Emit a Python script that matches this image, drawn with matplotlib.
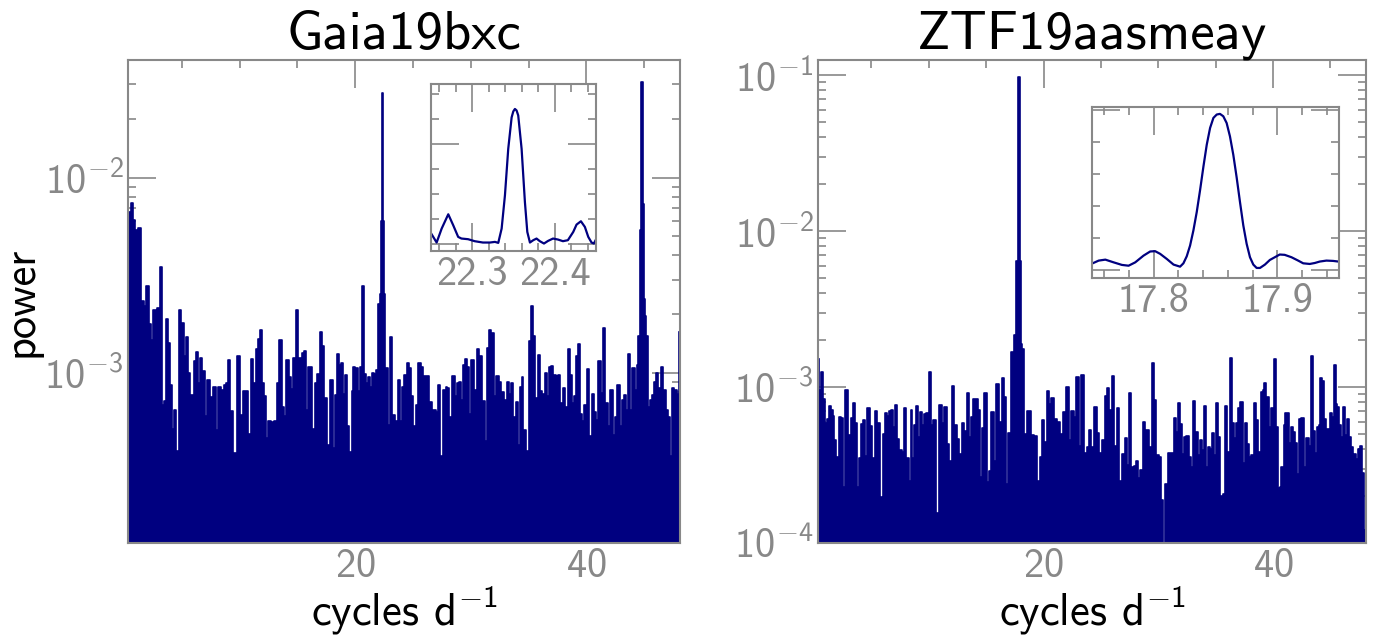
import matplotlib
matplotlib.use('Agg')
import numpy as np
import matplotlib.pyplot as plt
from matplotlib.ticker import (MultipleLocator, LogLocator, FormatStrFormatter,
                               NullFormatter, FuncFormatter)

plt.rcParams['font.family'] = 'cmss10'
plt.rcParams['mathtext.fontset'] = 'custom'
plt.rcParams['mathtext.rm'] = 'cmss10'
plt.rcParams['mathtext.it'] = 'cmss10'
plt.rcParams['mathtext.bf'] = 'cmss10'
plt.rcParams['axes.unicode_minus'] = False
plt.rcParams['axes.formatter.use_mathtext'] = True

# Gaia19bxc periodogram (frequency in cycles/day, power)
gaia_freq = [0.36, 0.53, 0.68, 0.85, 1.08, 1.34, 1.58, 1.81, 2.04, 2.27, 2.45, 2.65, 2.82, 2.97,
             3.20, 3.37, 3.52, 3.69, 3.89, 4.04, 4.18, 4.39, 4.62, 4.82, 5.05, 5.26, 5.46, 5.63,
             5.84, 5.98, 6.13, 6.30, 6.50, 6.68, 6.88, 7.08, 7.31, 7.55, 7.84, 8.01, 8.33, 8.53,
             8.73, 8.85, 9.08, 9.34, 9.60, 9.92, 10.13, 10.42, 10.62, 10.85, 11.08, 11.29, 11.49,
             11.66, 11.81, 12.01, 12.18, 12.39, 12.59, 12.82, 13.08, 13.31, 13.52, 13.75, 13.95,
             14.16, 14.36, 14.53, 14.73, 14.94, 15.11, 15.28, 15.49, 15.66, 15.84, 15.98, 16.21,
             16.40, 16.65, 16.82, 17.02, 17.17, 17.40, 17.69, 17.95, 18.16, 18.33, 18.53, 18.68,
             18.85, 19.00, 19.23, 19.43, 19.58, 19.78, 19.92, 20.13, 20.30, 20.45, 20.65, 20.82,
             21.00, 21.23, 21.37, 21.55, 21.72, 21.89, 22.10, 22.24, 22.30, 22.352, 22.41, 22.53,
             22.68, 22.97, 23.11, 23.31, 23.55, 23.78, 23.98, 24.13, 24.33, 24.56, 24.73, 24.94,
             25.14, 25.34, 25.58, 25.78, 26.01, 26.27, 26.50, 26.73, 26.94, 27.08, 27.26, 27.46,
             27.75, 27.89, 28.07, 28.24, 28.53, 28.71, 28.91, 29.05, 29.26, 29.43, 29.58, 29.78,
             29.92, 30.13, 30.36, 30.50, 30.65, 30.85, 31.14, 31.31, 31.52, 31.66, 31.87, 32.10,
             32.30, 32.53, 32.76, 32.99, 33.25, 33.43, 33.57, 33.77, 33.98, 34.15, 34.35, 34.44,
             34.67, 34.93, 35.14, 35.31, 35.48, 35.66, 35.89, 36.09, 36.30, 36.53, 36.70, 36.88,
             37.05, 37.25, 37.46, 37.63, 37.83, 38.06, 38.27, 38.47, 38.64, 38.79, 38.99, 39.14,
             39.34, 39.51, 39.72, 39.92, 40.12, 40.35, 40.59, 40.73, 40.93, 41.11, 41.34, 41.54,
             41.75, 41.95, 42.18, 42.38, 42.56, 42.82, 42.96, 43.14, 43.34, 43.54, 43.72, 43.86,
             44.06, 44.27, 44.41, 44.59, 44.67, 44.79, 44.93, 45.02, 45.14, 45.25, 45.40, 45.57,
             45.80, 45.95, 46.09, 46.30, 46.56, 46.76, 46.96, 47.14, 47.31, 47.48, 47.72, 47.92,
             48.03]
gaia_power = [6.3e-3, 6.7e-3, 7.4e-3, 6.1e-3, 5.4e-3, 5.5e-3, 2.35e-3, 2.2e-3, 2.8e-3, 1.78e-3,
              1.48e-3, 2.1e-3, 1.46e-3, 2.15e-3, 3.5e-3, 6.9e-4, 7.2e-4, 1.9e-3, 1.42e-3, 8.7e-4,
              5.2e-4, 6.5e-4, 4.0e-4, 2.1e-3, 1.8e-3, 1.22e-3, 1.52e-3, 1.0e-3, 7.7e-4, 7.7e-4,
              1.15e-3, 1.28e-3, 8.9e-4, 1.19e-3, 1.02e-3, 6.0e-4, 9.2e-4, 7.5e-4, 8.5e-4, 5.1e-4,
              8.5e-4, 8.2e-4, 8.7e-4, 8.9e-4, 1.16e-3, 6.4e-4, 3.9e-4, 1.22e-3, 6.1e-4, 8.1e-4,
              8.05e-4, 4.9e-4, 1.18e-3, 8.9e-4, 1.33e-3, 1.49e-3, 1.66e-3, 8.9e-4, 7.6e-4, 4.65e-4,
              5.65e-4, 5.6e-4, 5.65e-4, 8.9e-4, 1.48e-3, 6.7e-4, 6.0e-4, 1.16e-3, 9.5e-4, 8.3e-4,
              1.19e-3, 2.1e-3, 1.2e-3, 1.2e-3, 1.26e-3, 1.29e-3, 6.5e-4, 1.08e-3, 1.08e-3, 5.2e-4,
              8.9e-4, 9.9e-4, 1.63e-3, 1.37e-3, 7.45e-4, 4.3e-4, 9.2e-4, 4.15e-4, 7.7e-4, 1.25e-3,
              1.1e-3, 1.12e-3, 7.8e-4, 9.8e-4, 5.35e-4, 3.95e-4, 8.1e-4, 1.07e-3, 1.06e-3, 8.1e-4,
              1.08e-3, 2.8e-3, 9.9e-4, 8.9e-4, 9.5e-4, 8.5e-4, 1.0e-3, 9.9e-4, 1.04e-3, 2.25e-3,
              2.55e-3, 6.0e-3, 2.7e-2, 6.0e-3, 2.55e-3, 1.06e-3, 5.45e-4, 1.53e-3, 6.1e-4, 5.65e-4,
              9.2e-4, 5.65e-4, 8.5e-4, 9.8e-4, 1.12e-3, 1.06e-3, 7.6e-4, 5.35e-4, 6.9e-4, 1.12e-3,
              1.08e-3, 9.7e-4, 9.7e-4, 7.1e-4, 6.5e-4, 6.5e-4, 6.35e-4, 8.7e-4, 3.75e-4, 8.2e-4,
              8.5e-4, 8.35e-4, 5.95e-4, 9.6e-4, 7.6e-4, 8.9e-4, 9.05e-4, 7.3e-4, 1.1e-3, 1.18e-3,
              1.08e-3, 6.2e-4, 1.16e-3, 8.2e-4, 4.8e-4, 1.33e-3, 1.22e-3, 7.2e-4, 4.5e-4, 1.34e-3,
              1.66e-3, 1.6e-3, 7.6e-4, 9.6e-4, 9.0e-4, 8.0e-4, 7.3e-4, 9.05e-4, 7.85e-4, 8.9e-4,
              5.95e-4, 7.1e-4, 4.3e-4, 8.5e-4, 9.5e-4, 5.1e-4, 4.0e-4, 1.45e-3, 2.2e-3, 1.54e-3,
              7.45e-4, 1.24e-3, 8.05e-4, 7.85e-4, 1.0e-3, 7.6e-4, 1.08e-3, 1.09e-3, 9.8e-4, 9.7e-4,
              9.8e-4, 7.05e-4, 8.35e-4, 6.7e-4, 1.32e-3, 9.8e-4, 7.05e-4, 7.6e-4, 1.22e-3, 1.41e-3,
              6.2e-4, 5.65e-4, 6.9e-4, 1.05e-3, 4.75e-4, 7.85e-4, 6.35e-4, 5.75e-4, 1.15e-3, 7.9e-4,
              1.7e-3, 7.05e-4, 5.35e-4, 8.2e-4, 4.8e-4, 5.95e-4, 8.7e-4, 5.35e-4, 7.3e-4, 7.7e-4,
              6.5e-4, 1.25e-3, 6.5e-4, 1.06e-3, 8.2e-4, 1.1e-3, 1.54e-3, 5.4e-3, 3.1e-2, 7.3e-3,
              2.4e-3, 1.95e-3, 1.54e-3, 6.7e-4, 7.3e-4, 7.7e-4, 9.05e-4, 1.0e-3, 8.35e-4, 1.08e-3,
              8.2e-4, 6.5e-4, 5.95e-4, 3.75e-4, 8.35e-4, 8.2e-4, 7.85e-4, 1.63e-3]

# ZTF19aasmeay periodogram
ztf_freq = [0.40, 0.50, 0.70, 0.87, 1.05, 1.19, 1.40, 1.54, 1.69, 1.86, 2.03, 2.24, 2.41, 2.59,
            2.88, 3.08, 3.28, 3.52, 3.69, 3.83, 4.01, 4.21, 4.39, 4.56, 4.73, 4.94, 5.17, 5.40,
            5.61, 5.81, 5.95, 6.10, 6.27, 6.45, 6.59, 6.77, 6.94, 7.17, 7.35, 7.52, 7.75, 7.93,
            8.13, 8.34, 8.48, 8.65, 8.80, 8.97, 9.15, 9.32, 9.50, 9.70, 9.87, 10.11, 10.31, 10.51,
            10.80, 11.04, 11.24, 11.47, 11.67, 11.85, 12.11, 12.34, 12.55, 12.78, 12.98, 13.13,
            13.45, 13.59, 13.79, 14.00, 14.17, 14.35, 14.52, 14.75, 14.96, 15.13, 15.36, 15.57,
            15.77, 16.03, 16.26, 16.47, 16.67, 16.84, 17.05, 17.25, 17.54, 17.72, 17.854, 17.96,
            18.03, 18.18, 18.41, 18.76, 18.99, 19.28, 19.54, 19.78, 20.01, 20.15, 20.41, 20.56,
            20.82, 21.05, 21.29, 21.52, 21.81, 22.10, 22.30, 22.50, 22.74, 22.94, 23.17, 23.38,
            23.72, 23.93, 24.04, 24.22, 24.51, 24.77, 24.97, 25.23, 25.44, 25.64, 25.79, 26.08,
            26.25, 26.48, 26.71, 26.95, 27.18, 27.35, 27.53, 27.76, 27.96, 28.14, 28.34, 28.54,
            28.75, 28.89, 29.10, 29.30, 29.53, 29.73, 29.94, 30.14, 30.32, 30.49, 30.66, 30.98,
            31.24, 31.45, 31.65, 31.83, 32.00, 32.17, 32.35, 32.55, 32.75, 32.93, 33.13, 33.34,
            33.51, 33.68, 33.86, 34.09, 34.26, 34.44, 34.61, 34.79, 34.96, 35.11, 35.31, 35.51,
            35.69, 35.89, 36.12, 36.36, 36.53, 36.70, 36.91, 37.05, 37.23, 37.46, 37.63, 37.84,
            38.01, 38.18, 38.42, 38.62, 38.79, 39.03, 39.17, 39.32, 39.52, 39.72, 39.93, 40.16,
            40.30, 40.51, 40.62, 40.83, 41.00, 41.17, 41.32, 41.46, 41.64, 41.81, 41.99, 42.16,
            42.34, 42.57, 42.80, 43.00, 43.21, 43.38, 43.53, 43.73, 43.90, 44.05, 44.22, 44.37,
            44.54, 44.75, 44.89, 45.09, 45.21, 45.38, 45.53, 45.70, 45.82, 45.99, 46.17, 46.34,
            46.55, 46.72, 46.84, 47.01, 47.18, 47.36, 47.50, 47.68, 47.85, 48.03]
ztf_power = [1.52e-3, 9.6e-4, 1.25e-3, 8.4e-4, 5.85e-4, 6.2e-4, 7.5e-4, 7.1e-4, 6.5e-4, 4.6e-4,
             3.55e-4, 6.4e-4, 6.3e-4, 2.3e-4, 9.5e-4, 4.9e-4, 6.3e-4, 7.9e-4, 5.85e-4, 2.3e-4,
             3.5e-4, 5.8e-4, 6.1e-4, 3.6e-4, 7.35e-4, 5.6e-4, 3.5e-4, 7.05e-4, 5.9e-4, 1.98e-4,
             1.85e-4, 5.0e-4, 6.8e-4, 6.5e-4, 7.0e-4, 7.1e-4, 5.55e-4, 7.7e-4, 4.65e-4, 3.95e-4,
             3.85e-4, 7.3e-4, 3.5e-4, 2.5e-4, 7.1e-4, 3.5e-4, 5.7e-4, 7.6e-4, 4.8e-4, 6.95e-4,
             5.7e-4, 6.7e-4, 6.8e-4, 1.25e-3, 5.7e-4, 6.15e-4, 1.55e-4, 7.7e-4, 5.85e-4, 7.4e-4,
             4.3e-4, 3.35e-4, 1.01e-3, 5.7e-4, 4.65e-4, 3.7e-4, 5.85e-4, 5.2e-4, 9.1e-4, 4.75e-4,
             6.4e-4, 8.4e-4, 8.4e-4, 7.1e-4, 2.65e-4, 5.5e-4, 9.2e-4, 2.45e-4, 2.9e-4, 6.95e-4,
             3.35e-4, 1.05e-3, 6.0e-4, 1.15e-3, 8.6e-4, 2.4e-4, 5.1e-4, 1.68e-3, 2.14e-3, 6.4e-3,
             9.7e-2, 6.4e-3, 1.9e-3, 1.74e-3, 5.0e-4, 7.0e-4, 4.9e-4, 4.85e-4, 2.5e-4, 3.55e-4,
             6.1e-4, 4.45e-4, 9.4e-4, 7.8e-4, 8.5e-4, 6.2e-4, 6.0e-4, 5.0e-4, 6.9e-4, 1.0e-3,
             4.6e-4, 7.0e-4, 6.4e-4, 1.16e-3, 4.2e-4, 1.2e-3, 3.75e-4, 4.1e-4, 5.3e-4, 4.1e-4,
             7.4e-4, 5.1e-4, 3.75e-4, 4.6e-4, 8.7e-4, 9.9e-4, 7.1e-4, 1.17e-3, 4.2e-4, 7.3e-4,
             2.5e-4, 3.7e-4, 4.7e-4, 3.15e-4, 9.2e-4, 3.05e-4, 3.1e-4, 3.35e-4, 2.6e-4, 2.95e-4,
             6.0e-4, 5.3e-4, 5.3e-4, 4.1e-4, 1.43e-3, 8.3e-4, 3.65e-4, 3.55e-4, 1.9e-4, 8.0e-5,
             2.4e-4, 3.75e-4, 3.8e-4, 6.3e-4, 5.15e-4, 7.9e-4, 5.8e-4, 3.7e-4, 4.75e-4, 4.85e-4,
             3.56e-4, 3.08e-4, 8.1e-4, 5.15e-4, 3.65e-4, 4.55e-4, 3.97e-4, 7.5e-4, 3.05e-4, 4.1e-4,
             4.0e-4, 5.1e-4, 3.65e-4, 7.9e-4, 4.8e-4, 2.0e-4, 2.06e-4, 7.5e-4, 3.84e-4, 1.53e-3,
             5.9e-4, 4.7e-4, 5.9e-4, 7.3e-4, 8.0e-4, 3.27e-4, 5.9e-4, 4.3e-4, 3.56e-4, 3.65e-4,
             7.9e-4, 6.1e-4, 3.84e-4, 9.3e-4, 9.5e-4, 1.06e-3, 8.6e-4, 5.55e-4, 7.3e-4, 1.52e-3,
             5.55e-4, 2.24e-4, 2.3e-4, 3.08e-4, 5.7e-4, 6.8e-4, 6.8e-4, 4.35e-4, 5.55e-4, 5.15e-4,
             4.4e-4, 2.75e-4, 6.2e-4, 6.3e-4, 3.08e-4, 4.7e-4, 4.2e-4, 1.58e-3, 5.2e-4, 3.75e-4,
             5.55e-4, 5.7e-4, 1.14e-3, 1.09e-3, 6.2e-4, 5.35e-4, 5.35e-4, 6.8e-4, 6.4e-4, 1.39e-3,
             7.75e-4, 7.4e-4, 5.7e-4, 4.8e-4, 7.4e-4, 4.9e-4, 6.2e-4, 4.8e-4, 4.1e-4, 3.65e-4,
             3.7e-4, 3.43e-4, 4.0e-4, 4.2e-4, 2.8e-4, 1.21e-4]

# Finely sampled periodograms around the main peaks (linear power)
gaia_zoom_freq = [22.2508, 22.2569, 22.263, 22.271, 22.277, 22.283, 22.287, 22.295, 22.303,
                  22.313, 22.3215, 22.3276, 22.3316, 22.3357, 22.3397, 22.3437, 22.3478,
                  22.3498, 22.3518, 22.3538, 22.3558, 22.3599, 22.3639, 22.3668, 22.370,
                  22.374, 22.378, 22.382, 22.387, 22.392, 22.398, 22.404, 22.410, 22.416,
                  22.4225, 22.4265, 22.4318, 22.4366, 22.4407, 22.4447, 22.4475, 22.4496]
gaia_zoom_power = [0.00187, 0.0002, 0.003, 0.00587, 0.00367, 0.00133, 0.001, 0.00087, 0.00047,
                   0.0002, 0.0002, 0.00033, 0.00013, 0.003, 0.00967, 0.019, 0.0253, 0.0265,
                   0.027, 0.0267, 0.0257, 0.019, 0.00833, 0.00233, 0.0002, 0.00067, 0.001,
                   0.00047, 0.0, 0.00053, 0.001, 0.0008, 0.00047, 0.00067, 0.00233, 0.0038,
                   0.00447, 0.00333, 0.00133, 0.0002, 0.0, 0.00067]

ztf_zoom_freq = [17.7505, 17.7554, 17.7608, 17.7675, 17.7742, 17.7796, 17.785, 17.7917, 17.7971,
                 17.8011, 17.8052, 17.8106, 17.816, 17.8213, 17.824, 17.8267, 17.8294, 17.8321,
                 17.8348, 17.8375, 17.8402, 17.8429, 17.8456, 17.8483, 17.851, 17.8536, 17.8563,
                 17.859, 17.8617, 17.8644, 17.8671, 17.8698, 17.8725, 17.8752, 17.8779, 17.8806,
                 17.8833, 17.886, 17.89, 17.894, 17.898, 17.902, 17.906, 17.9115, 17.9169,
                 17.921, 17.9263, 17.9304, 17.9344, 17.9398, 17.9452, 17.9495]
ztf_zoom_power = [0.0042, 0.0059, 0.0065, 0.0048, 0.0032, 0.0027, 0.0048, 0.009, 0.0116, 0.0118,
                  0.0101, 0.0069, 0.0034, 0.0021, 0.0042, 0.0086, 0.0153, 0.0248, 0.0363, 0.05,
                  0.0647, 0.0784, 0.0889, 0.0952, 0.0973, 0.0977, 0.0962, 0.092, 0.0836, 0.0721,
                  0.058, 0.0426, 0.0279, 0.0164, 0.008, 0.0034, 0.0013, 0.0013, 0.0034, 0.0063,
                  0.008, 0.0097, 0.0095, 0.008, 0.0059, 0.0042, 0.0038, 0.0044, 0.0053, 0.0059,
                  0.0057, 0.0053]

NAVY = '#000080'
GREY = '#888888'
TICK_SIZE = 29
LABEL_SIZE = 32


def decade_label(v, pos):
    return r'$10^{%d}$' % int(round(np.log10(v)))


def style_axes(ax):
    for s in ax.spines.values():
        s.set_color(GREY)
        s.set_linewidth(1.5)
    ax.tick_params(which='both', direction='in', top=True, right=True,
                   color=GREY, labelcolor=GREY, labelsize=TICK_SIZE, width=1.2)
    ax.tick_params(which='major', length=20)
    ax.tick_params(which='minor', length=6)


def spectrum(ax, freq, power, ylim, title):
    ax.fill_between(freq, power, ylim[0] / 10, step='mid', color=NAVY, lw=0)
    ax.plot(freq, power, drawstyle='steps-mid', color=NAVY, lw=1.2)
    ax.set_yscale('log')
    ax.set_xlim(0.35, 48.1)
    ax.set_ylim(*ylim)
    ax.xaxis.set_major_locator(MultipleLocator(20))
    ax.xaxis.set_minor_locator(MultipleLocator(5))
    ax.yaxis.set_major_locator(LogLocator(base=10))
    ax.yaxis.set_minor_locator(LogLocator(base=10, subs=range(2, 10)))
    ax.yaxis.set_major_formatter(FuncFormatter(decade_label))
    ax.yaxis.set_minor_formatter(NullFormatter())
    ax.set_axisbelow(True)
    style_axes(ax)
    ax.set_title(title, fontsize=39.5, pad=8)
    ax.set_xlabel(r'cycles d$^{-1}$', fontsize=LABEL_SIZE, labelpad=0)


def zoom_inset(rect, freq, power, xlim, ylim, ymajor, yminor):
    ins = fig.add_axes(rect)
    ins.plot(freq, power, color=NAVY, lw=1.6)
    ins.set_xlim(*xlim)
    ins.set_ylim(*ylim)
    ins.xaxis.set_major_locator(MultipleLocator(0.1))
    ins.xaxis.set_minor_locator(MultipleLocator(0.02))
    ins.xaxis.set_major_formatter(FormatStrFormatter('%.1f'))
    ins.yaxis.set_major_locator(MultipleLocator(ymajor))
    ins.yaxis.set_minor_locator(MultipleLocator(yminor))
    style_axes(ins)
    ins.tick_params(labelleft=False)
    return ins


fig = plt.figure(figsize=(13.83, 6.4), dpi=100)

ax1 = fig.add_axes([0.0926, 0.1516, 0.3991, 0.7547])
spectrum(ax1, gaia_freq, gaia_power, (1.35e-4, 0.040), 'Gaia19bxc')
ax1.set_ylabel('power', fontsize=LABEL_SIZE, labelpad=2)

ax2 = fig.add_axes([0.5915, 0.1516, 0.3962, 0.7547])
spectrum(ax2, ztf_freq, ztf_power, (1e-4, 0.125), 'ZTF19aasmeay')

zoom_inset([0.3116, 0.6078, 0.1193, 0.2609], gaia_zoom_freq, gaia_zoom_power,
           (22.25, 22.45), (-0.0015, 0.032), 0.02, 0.005)
zoom_inset([0.7896, 0.5656, 0.1786, 0.2672], ztf_zoom_freq, ztf_zoom_power,
           (17.75, 17.95), (-0.005, 0.102), 0.1, 0.02)

plt.savefig('out.png', dpi=100)
